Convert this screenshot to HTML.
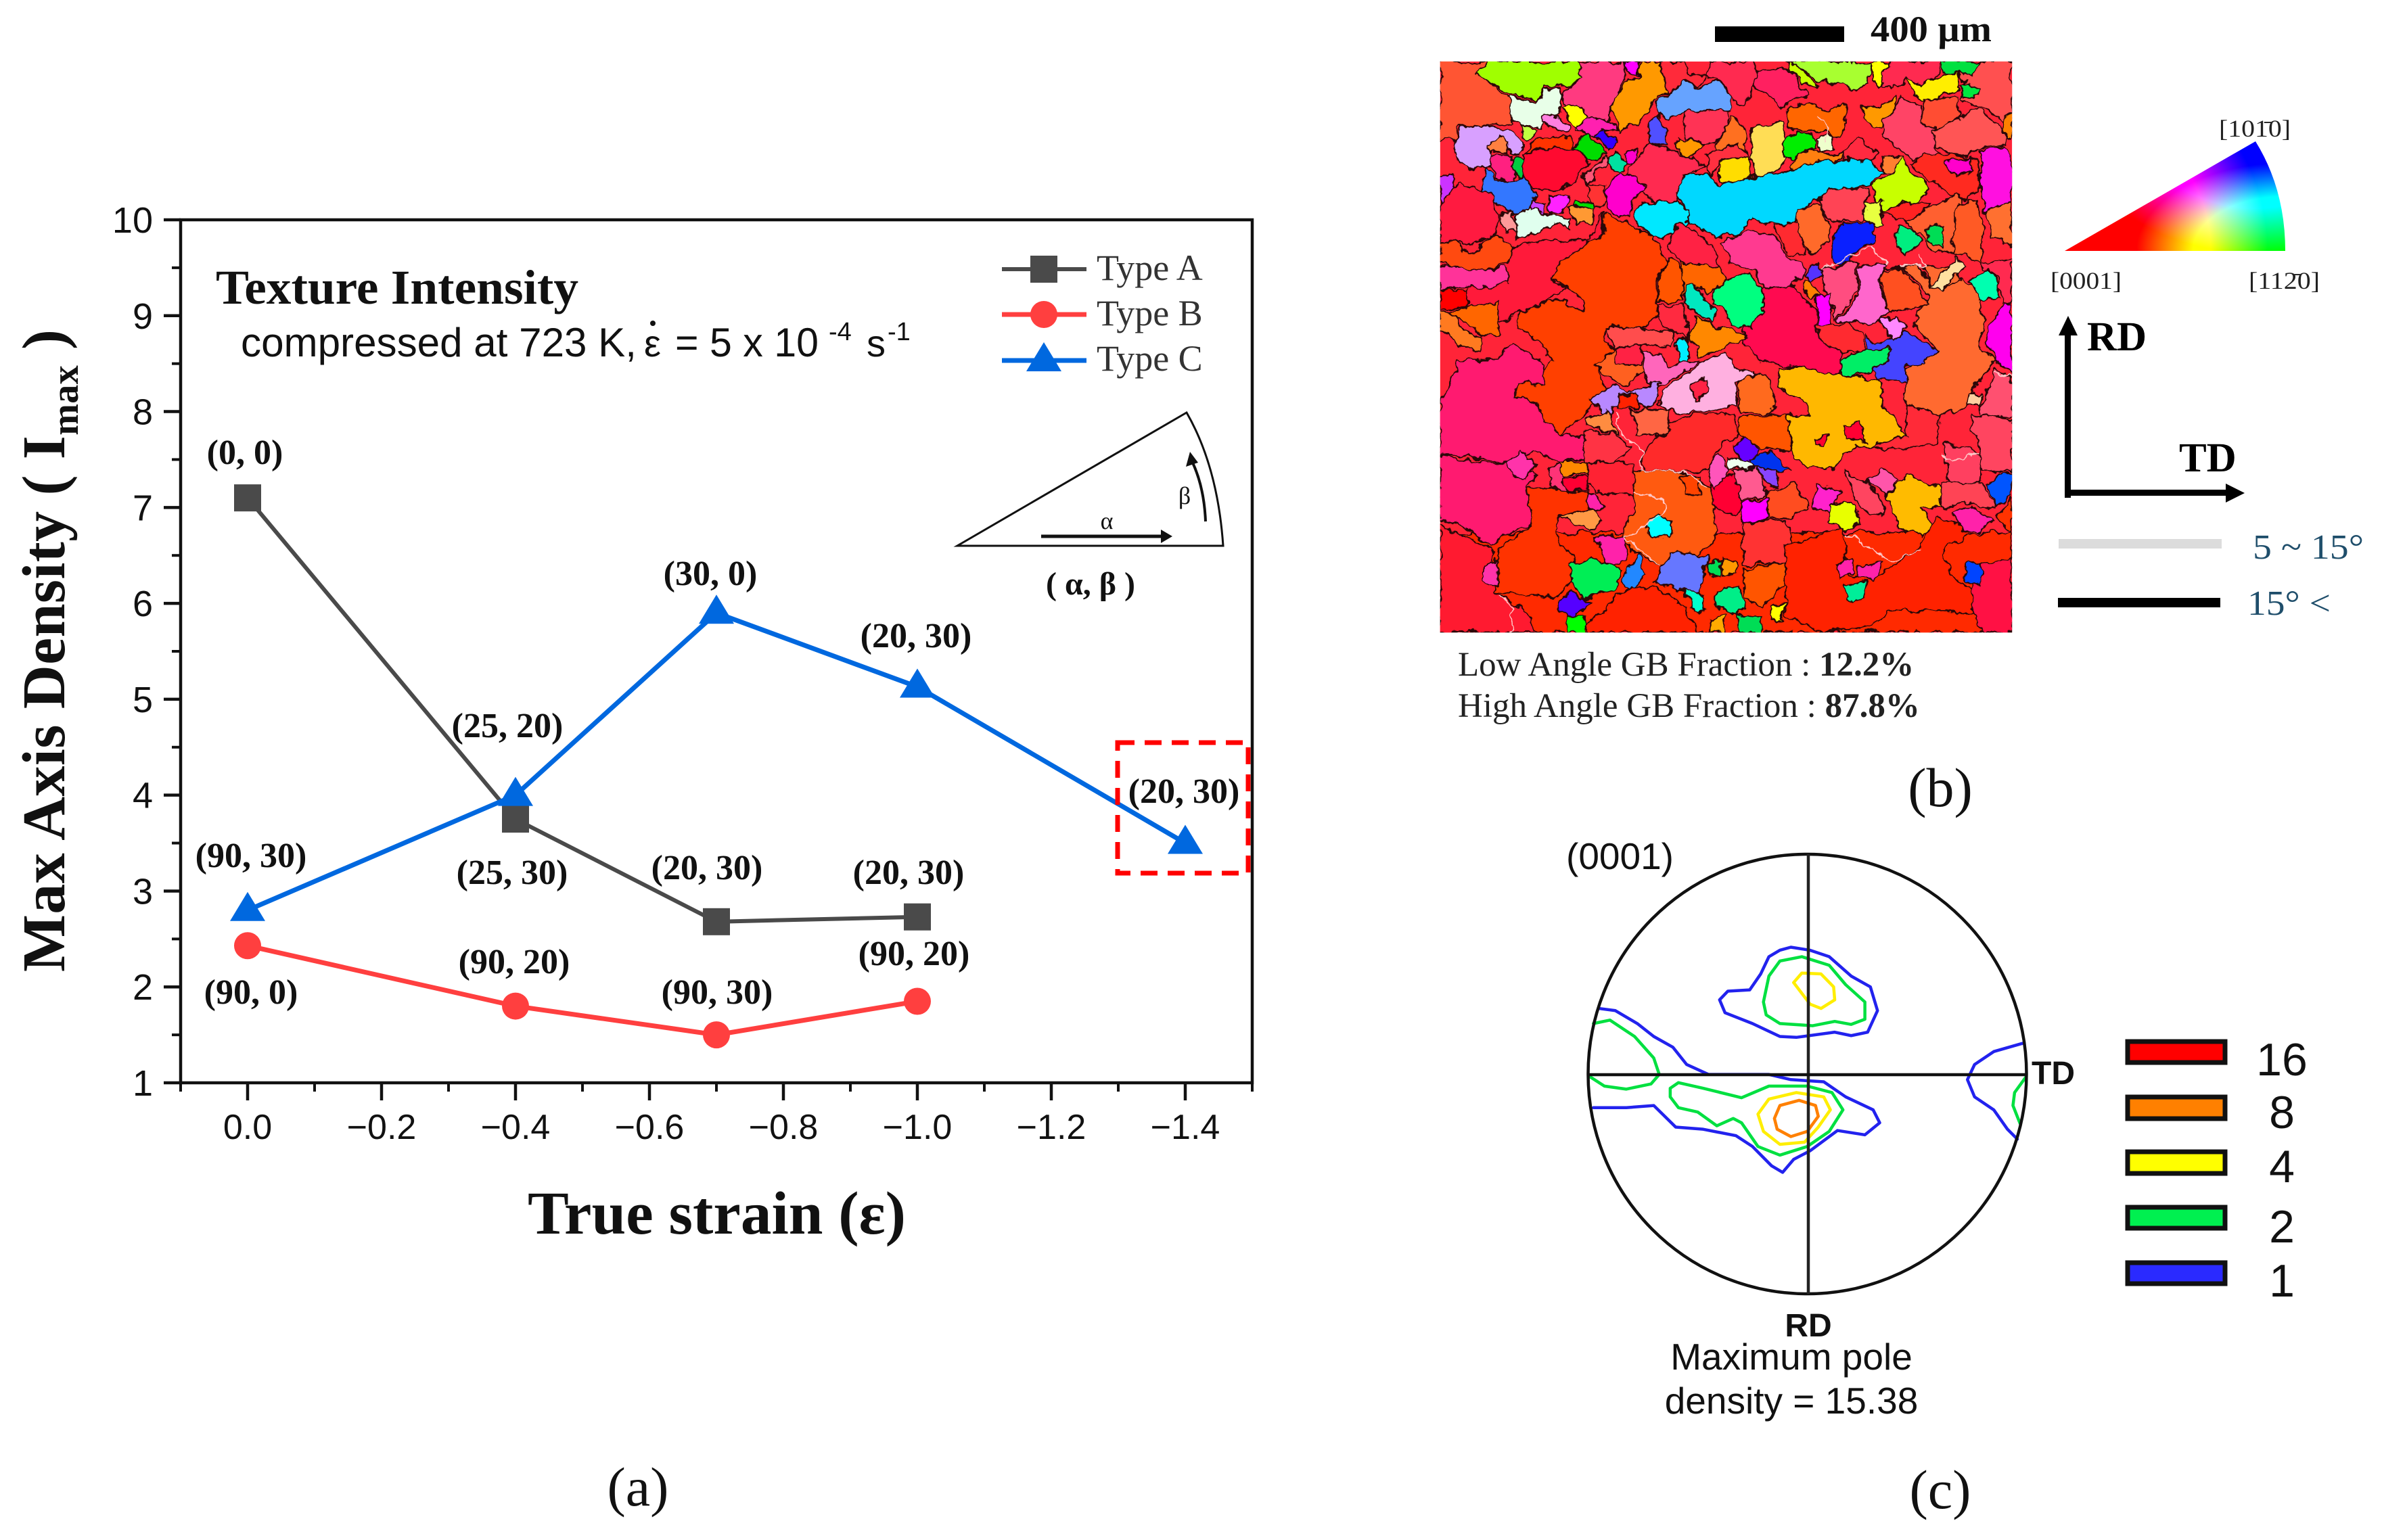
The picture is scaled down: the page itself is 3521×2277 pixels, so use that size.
<!DOCTYPE html>
<html lang="en">
<head>
<meta charset="utf-8">
<title>Texture intensity figure</title>
<style>
html,body{margin:0;padding:0;background:#fff}
svg{display:block}
.sans{font-family:"Liberation Sans",Arial,sans-serif}
.serif{font-family:"Liberation Serif","Times New Roman",serif}
.pt{font-family:"Liberation Serif",serif;font-weight:bold;font-size:52px;text-anchor:middle;fill:#111}
.leg{font-family:"Liberation Serif",serif;font-size:54px;fill:#333}
.gr path{stroke:#2a0808;stroke-width:3.6;stroke-linejoin:round}
.lagb{fill:none;stroke:#ffc8c8;stroke-width:3}
.ct{fill:none;stroke-width:4.5;stroke-linejoin:round;stroke-linecap:round;vector-effect:non-scaling-stroke}
</style>
</head>
<body>
<svg id="fig" xmlns="http://www.w3.org/2000/svg" width="3521" height="2277" viewBox="0 0 3521 2277">
<rect width="3521" height="2277" fill="#fff"/>

<g id="panel-a">
  <g id="axes"></g>
  <text class="serif" font-weight="bold" font-size="90" fill="#111" transform="translate(95,1437) rotate(-90)" textLength="950" lengthAdjust="spacing">Max Axis Density ( I<tspan font-size="56" dy="20">max</tspan><tspan dy="-20"> )</tspan></text>
  <text class="serif" font-weight="bold" font-size="90" fill="#111" x="780" y="1824" textLength="559" lengthAdjust="spacingAndGlyphs">True strain (ε)</text>
  <text class="serif" font-weight="bold" font-size="72" fill="#111" x="319" y="449" textLength="536" lengthAdjust="spacingAndGlyphs">Texture Intensity</text>
  <g class="sans" font-size="60" fill="#111">
    <text x="356" y="527" textLength="585" lengthAdjust="spacingAndGlyphs">compressed at 723 K,</text>
    <text x="952" y="527" font-size="56">ε</text>
    <circle cx="965" cy="478" r="4" fill="#111"/>
    <text x="998" y="527" textLength="212" lengthAdjust="spacingAndGlyphs">= 5 x 10</text>
    <text x="1225" y="503" font-size="38">-4</text>
    <text x="1281" y="527" font-size="56">s</text>
    <text x="1312" y="503" font-size="38">-1</text>
  </g>
  <g id="series"></g>
  <rect x="1652" y="1098" width="193" height="193" fill="none" stroke="#f00" stroke-width="7" stroke-dasharray="25 15"/>

  <g>
    <text class="pt" x="362" y="686">(0, 0)</text>
    <text class="pt" x="757" y="1307">(25, 30)</text>
    <text class="pt" x="1045" y="1300">(20, 30)</text>
    <text class="pt" x="1343" y="1307">(20, 30)</text>
    <text class="pt" x="371" y="1484">(90, 0)</text>
    <text class="pt" x="760" y="1439">(90, 20)</text>
    <text class="pt" x="1060" y="1484">(90, 30)</text>
    <text class="pt" x="1351" y="1427">(90, 20)</text>
    <text class="pt" x="371" y="1282">(90, 30)</text>
    <text class="pt" x="750" y="1090">(25, 20)</text>
    <text class="pt" x="1050" y="865">(30, 0)</text>
    <text class="pt" x="1354" y="957">(20, 30)</text>
    <text class="pt" x="1750" y="1187">(20, 30)</text>
  </g>

  <g id="legend">
    <text class="leg" x="1621" y="414">Type A</text>
    <text class="leg" x="1621" y="481">Type B</text>
    <text class="leg" x="1621" y="548">Type C</text>
  </g>

  <g fill="none" stroke="#111" stroke-width="3">
    <path d="M1415 807 L1754 610 Q1800 690 1808 807 Z"/>
    <path d="M1539 793 H1722" stroke-width="5"/>
    <path d="M1733 793 L1716 783 V803 Z" fill="#111" stroke="none"/>
    <path d="M1782 771 Q1780 720 1762 682" stroke-width="4"/>
    <path d="M1759 668 L1753 690 L1771 684 Z" fill="#111" stroke="none"/>
    <text class="serif" font-size="36" fill="#111" stroke="none" x="1636" y="782" text-anchor="middle">α</text>
    <text class="serif" font-size="36" fill="#111" stroke="none" x="1751" y="745" text-anchor="middle">β</text>
    <text class="serif" font-weight="bold" font-size="48" fill="#111" stroke="none" x="1612" y="879" text-anchor="middle">( α, β )</text>
  </g>
  <text class="serif" font-size="82" fill="#111" x="943" y="2226" text-anchor="middle">(a)</text>
</g>

<g id="panel-b">
  <rect x="2535" y="39" width="191" height="23" fill="#000"/>
  <text class="serif" font-weight="bold" font-size="54" fill="#111" x="2765" y="61" textLength="179" lengthAdjust="spacingAndGlyphs">400 µm</text>
  <defs>
    <clipPath id="mapclip"><rect x="50" y="150" width="1473" height="1393"/></clipPath>
    <clipPath id="ipfclip"><path d="M3052 371 L3334 209 Q3378 280 3378 371 Z"/></clipPath>
    <radialGradient id="gR" gradientUnits="userSpaceOnUse" cx="3052" cy="371" r="300"><stop offset="0" stop-color="#f00"/><stop offset=".72" stop-color="#f00"/><stop offset="1" stop-color="#000"/></radialGradient>
    <radialGradient id="gG" gradientUnits="userSpaceOnUse" cx="0" cy="0" r="1" gradientTransform="translate(3378 371) scale(220 130)"><stop offset="0" stop-color="#0f0"/><stop offset=".62" stop-color="#0f0"/><stop offset="1" stop-color="#000"/></radialGradient>
    <radialGradient id="gB" gradientUnits="userSpaceOnUse" cx="0" cy="0" r="1" gradientTransform="translate(3334 209) scale(250 165)"><stop offset="0" stop-color="#00f"/><stop offset=".6" stop-color="#00f"/><stop offset="1" stop-color="#000"/></radialGradient>
    <filter id="rough" filterUnits="userSpaceOnUse" x="0" y="100" width="1600" height="1500" color-interpolation-filters="sRGB">
      <feTurbulence type="fractalNoise" baseFrequency=".035" numOctaves="3" seed="4" result="n"/>
      <feDisplacementMap in="SourceGraphic" in2="n" scale="26" xChannelSelector="R" yChannelSelector="G"/>
    </filter>
  </defs>
  <g transform="translate(2100,0) scale(.574,.6061)">
    <g clip-path="url(#mapclip)">
      <rect x="50" y="150" width="1473" height="1393" fill="#ff2438"/>
      <g class="gr" filter="url(#rough)">
<path fill="#ff2a00" d="M50 1300H1523V1543H50Z"/>
<path fill="#ff1a30" d="M50 1280L190 1340L190 1440L270 1490L300 1543H50Z"/>
<path fill="#ff5533" d="M50 150H170L150 180L230 240L240 300L100 310L85 340H50Z"/>
<path fill="#a0ff00" d="M170 150H400L415 190L380 210H320L300 245L230 230L145 180Z"/>
<path fill="#ff3a80" d="M400 150H530L520 200L480 300L400 320L360 230L415 190Z"/>
<path fill="#ff9900" d="M490 260L530 195L560 190L570 150H610L640 220L600 250L560 300L510 325Z"/>
<path fill="#f0f" d="M525 150H565L560 180H530Z"/>
<path fill="#ff2a3a" d="M610 150H680L690 180L740 185L720 210L680 195L640 225Z"/>
<path fill="#ff2a50" d="M740 150H860L860 210L830 260L800 240L770 190L740 185Z"/>
<path fill="#66a3ff" d="M610 250L680 195L720 215L770 195L800 240V270H680L640 290L610 280Z"/>
<path fill="#ff2060" d="M860 170H945L1000 230L930 260L880 220L860 210Z"/>
<path fill="#a8ff30" d="M945 150H1160L1150 205L1120 225L1090 205L1020 200L975 160Z"/>
<path fill="#c8ff00" d="M945 150L975 160L1025 215L985 200L950 175Z"/>
<path fill="#ff0" d="M1160 150H1200V195L1180 212L1160 185Z"/>
<path fill="#ff2a50" d="M1200 150H1340L1330 190L1290 205L1250 190L1215 220L1190 210Z"/>
<path fill="#00e040" d="M1340 150H1445L1420 185L1345 180Z"/>
<path fill="#ff5050" d="M1445 150H1523V300L1430 260L1390 240L1400 200L1380 175L1420 185Z"/>
<path fill="#ffee00" d="M1250 190L1290 205L1330 190L1385 175V225L1340 230L1305 255L1270 225Z"/>
<path fill="#00e840" d="M1390 205L1440 215L1430 235L1395 235Z"/>
<path fill="#ff6600" d="M945 265L1000 250L1040 275L1090 250L1095 300L1080 340L1040 320H1000L945 310Z"/>
<path fill="#ff9900" d="M1140 260H1180L1225 235V285L1180 315L1140 285Z"/>
<path fill="#ff4466" d="M1190 300L1240 235L1290 260V300L1340 320L1320 350L1340 380L1270 390L1240 370L1190 330Z"/>
<path fill="#ff4d33" d="M1300 240H1380L1390 285L1340 320L1290 300Z"/>
<path fill="#ff5555" d="M1320 320L1390 290L1430 265L1500 310L1505 350L1440 360L1410 380L1360 375L1320 350Z"/>
<path fill="#ff8000" d="M1505 280H1523V340H1505Z"/>
<path fill="#e8ffe8" d="M228 235L300 250L320 215H360V280L320 290L310 315L260 300L235 285Z"/>
<path fill="#ff80e0" d="M310 280L360 285L380 310V325L340 310L310 300Z"/>
<path fill="#c0ff40" d="M260 300L300 320L280 340L265 330Z"/>
<path fill="#ff0" d="M365 265L395 255L430 285L420 315L390 310Z"/>
<path fill="#d8a0ff" d="M85 340L110 310L160 305L230 320L270 350L250 380L190 345L180 380L190 410H120L90 380Z"/>
<path fill="#ff8040" d="M170 355L205 330L225 345V372L180 370Z"/>
<path fill="#ff2080" d="M180 380L230 375L240 400L245 440L190 435Z"/>
<path fill="#00cc40" d="M240 380L275 400L285 425L260 435L235 410Z"/>
<path fill="#ff0a30" d="M265 380L320 360H420L430 400L400 440L340 470L290 460L265 430Z"/>
<path fill="#f30" d="M290 345L340 330L390 340L395 360H320L270 375Z"/>
<path fill="#00dd00" d="M395 355L430 325L480 375L440 395L420 380Z"/>
<path fill="#ff20b0" d="M400 310L440 285L490 300L510 320L470 318L450 330L430 325Z"/>
<path fill="#30f" d="M450 330L470 318L510 350L480 365Z"/>
<path fill="#00e0a0" d="M485 390L505 370L530 400L505 420L485 410Z"/>
<path fill="#5050ff" d="M585 300L610 280L635 320L630 355L590 350Z"/>
<path fill="#f0c" d="M525 370L560 365L550 400L530 400Z"/>
<path fill="#3377ff" d="M170 410L190 440H240L270 435L295 475L270 520H240L190 495L160 465Z"/>
<path fill="#ff1a40" d="M50 480L100 450L180 470L200 540L190 570L130 600L90 590H50Z"/>
<path fill="#c3f" d="M50 430L85 425V460L50 500Z"/>
<path fill="#f0c" d="M495 440L510 420L560 430L580 460L545 490L540 530L495 520L475 490L480 460Z"/>
<path fill="#ff5577" d="M420 430L480 380L490 390L450 420L430 450Z"/>
<path fill="#f33" d="M430 450H475V505L440 500Z"/>
<path fill="#e0ffee" d="M250 525L280 505L330 520L385 530V560L345 545L300 565L245 585Z"/>
<path fill="#f99" d="M200 525L240 515L250 570L220 565Z"/>
<path fill="#c4f" d="M285 490L325 500L320 520L285 510Z"/>
<path fill="#f2f" d="M330 480H385L375 510L335 520Z"/>
<path fill="#00dd00" d="M400 490H440V505H400Z"/>
<path fill="#f93" d="M380 510L440 505V545H405L390 530Z"/>
<path fill="#ff2a50" d="M530 420L590 350L660 370L690 385L740 410L680 425L660 490L610 495L570 470L580 450Z"/>
<path fill="#f35" d="M680 320V270H790V305L760 350L680 340Z"/>
<path fill="#f90" d="M660 340L680 345H720L730 350L690 385L660 360Z"/>
<path fill="#ff7020" d="M800 280L840 320V380H770L760 360Z"/>
<path fill="#ff3040" d="M740 375L820 350L850 390L770 395L745 430Z"/>
<path fill="#ffdd55" d="M855 310L930 295L940 390L905 420L870 435L850 380Z"/>
<path fill="#ffdd00" d="M770 395L845 385L850 430L800 450L770 445Z"/>
<path fill="#00ee00" d="M930 340L970 320L1015 330L1020 360L985 370L960 390L935 385Z"/>
<path fill="#efc" d="M1020 335L1060 330V365L1030 370Z"/>
<path fill="#ff7f10" d="M955 410L975 375L1010 365L1060 380L1090 370L1085 385L1050 395L1020 425L1010 450L965 430Z"/>
<path fill="#ff2a40" d="M1090 370L1130 335L1180 375L1140 410L1090 395Z"/>
<path fill="#ff8030" d="M1190 385L1240 380L1255 420L1215 425L1195 420Z"/>
<path fill="#00d8ff" d="M660 480L680 425H740L770 455L850 430L950 420L1020 395L1100 390L1150 395L1200 420L1160 450L1060 470L1020 490L980 510L960 545H880L850 530L820 570L760 575L690 540V515Z"/>
<path fill="#00e8ff" d="M555 510L570 490L610 495L660 490L690 515V540L650 575L600 580L565 555Z"/>
<path fill="#ff2a20" d="M1260 400L1300 380L1360 375L1430 390L1440 450L1410 490L1360 470L1310 440Z"/>
<path fill="#f0c" d="M1350 395L1420 385V415L1380 430Z"/>
<path fill="#c8ff00" d="M1165 450L1215 425L1240 380L1260 420L1305 445V470L1270 505L1240 490L1200 520L1165 480Z"/>
<path fill="#e8ff40" d="M1140 500L1190 490L1195 545L1160 550L1140 530Z"/>
<path fill="#ff10e0" d="M1440 365L1500 355L1523 380V490L1450 520L1440 450Z"/>
<path fill="#f45" d="M1025 490L1050 460H1150L1145 500L1135 540H1060L1030 510Z"/>
<path fill="#ff6a2a" d="M970 510L1025 500L1050 540V590L1000 620L970 560Z"/>
<path fill="#f22" d="M1190 520L1240 495L1310 500L1300 520L1250 540Z"/>
<path fill="#ff6030" d="M1245 540L1310 510L1380 470L1400 500L1380 620L1310 610L1290 570Z"/>
<path fill="#ff5a25" d="M1380 500L1430 490L1450 560L1440 640L1400 620L1370 620Z"/>
<path fill="#ff7030" d="M1460 510L1523 490V600L1470 580Z"/>
<path fill="#00ee80" d="M1225 555L1275 560L1290 590L1250 620L1225 600Z"/>
<path fill="#00dd55" d="M1310 550H1345V605L1305 590Z"/>
<path fill="#0a20ff" d="M1080 545H1170L1165 590L1120 610L1100 650L1060 630V590Z"/>
<path fill="#ff1a3a" d="M120 690L200 650L240 600L310 590H430L470 520V570L360 640L340 690L380 700L310 740L250 760L200 790L120 780V710Z"/>
<path fill="#ff4a10" d="M50 590H90L125 620L190 570L240 600L230 640L160 660H90L50 640Z"/>
<path fill="#f39" d="M50 650L160 660L220 650L225 690L160 700H120L50 710Z"/>
<path fill="#f00" d="M50 710H120V750L50 755Z"/>
<path fill="#f60" d="M80 760L200 735V815L160 820L130 790L90 780Z"/>
<path fill="#ff7a20" d="M50 760H80L100 800L160 825V865L100 840L50 800Z"/>
<path fill="#ff4000" d="M475 520L600 580L635 640L605 690L610 770L570 800H475V830L510 860L460 900L475 950L420 1010L360 1060L310 1020L305 990L245 965V935L310 910L340 880L320 850L250 800V760L310 740L350 730L420 760V735L380 700L340 680L360 640L420 600L470 570Z"/>
<path fill="#ff1a70" d="M50 980L100 880H180L240 840L310 880L320 940L245 935V965L305 990L310 1020L360 1060H430V1120L360 1130L290 1100L240 1130L100 1110H50Z"/>
<path fill="#ff1a70" d="M50 1110L100 1120L230 1130L300 1160L270 1190L290 1280L220 1300L180 1330L100 1280L50 1270Z"/>
<path fill="#ff0a50" d="M830 800L880 700H960L1020 760V810L1085 860L1080 915L930 890L880 880L830 840Z"/>
<path fill="#ff3a90" d="M775 590L850 560L910 575L945 630L990 650L960 700H880L860 660L800 640Z"/>
<path fill="#f24" d="M660 545L700 560L750 600L770 650L670 640L640 600Z"/>
<path fill="#ff2a30" d="M910 550L970 540L990 620L945 620Z"/>
<path fill="#f60" d="M670 640L770 650L790 680L740 720L700 690L670 720Z"/>
<path fill="#f50" d="M610 690L640 630L670 650L675 735H610Z"/>
<path fill="#00e8c0" d="M680 700L700 690L760 760L750 790L680 740Z"/>
<path fill="#00ff80" d="M755 710L790 680L850 670L885 720V760L850 800L800 790L780 750L750 740Z"/>
<path fill="#f80" d="M690 820L710 770L760 800H800L840 825L780 850L720 870Z"/>
<path fill="#ff2a40" d="M610 745H680L690 830L650 810L615 790Z"/>
<path fill="#ff4d4d" d="M475 800H570L650 810V850L580 840L500 850Z"/>
<path fill="#ff6020" d="M450 890L505 850L580 870V900L530 940L490 930Z"/>
<path fill="#f24" d="M505 850L570 840V890H505Z"/>
<path fill="#0ef" d="M660 830H690L690 885H665Z"/>
<path fill="#f6b" d="M570 860H620L640 900L680 880H720L640 930L600 950L580 920Z"/>
<path fill="#ffb0e0" d="M720 885L790 860L820 905H860V935H815V990L760 1000L680 1010L640 1000L610 985L640 940Z"/>
<path fill="#f24" d="M695 935L735 920L740 960L710 975Z"/>
<path fill="#b888ff" d="M435 970L500 940L540 960L615 930L610 975L580 1000L540 975L500 990L480 1020Z"/>
<path fill="#f20" d="M510 965H555V995H510Z"/>
<path fill="#ff6a1e" d="M820 935L880 905L920 990L900 1010H820Z"/>
<path fill="#ffb800" d="M925 900L960 895L1080 915L1180 925L1190 990L1250 1060L1160 1090H1110L1060 1140H1000L960 1120L945 1050V1010H1000L990 975L920 945Z"/>
<path fill="#f03" d="M1015 1070L1050 1060L1040 1085H1020Z"/>
<path fill="#f03" d="M1090 1040L1130 1030L1145 1080L1100 1075Z"/>
<path fill="#ff2a30" d="M1020 790H1100L1140 820L1145 855L1085 860L1030 830Z"/>
<path fill="#ff6a30" d="M1180 660L1240 650L1310 720L1270 790L1330 855L1250 900V990L1340 1010L1420 990V950L1480 880L1440 850L1450 770L1440 700L1380 680L1320 700L1280 650Z"/>
<path fill="#ff6a30" d="M1245 650H1380L1390 690L1320 700L1290 650Z"/>
<path fill="#ff5020" d="M1180 670L1240 655L1280 700L1305 740L1270 755L1205 760Z"/>
<path fill="#44f" d="M1145 815L1170 840L1210 825L1250 810L1330 855L1290 890H1250V930L1180 925L1160 900Z"/>
<path fill="#00ee66" d="M1080 885L1130 855L1215 850L1195 890L1130 915L1085 915Z"/>
<path fill="#f0e" d="M1455 820L1500 740L1523 745V910L1480 880Z"/>
<path fill="#f6c" d="M1075 780L1130 720L1125 650L1200 640L1180 690L1205 760L1170 790H1100Z"/>
<path fill="#ff4d80" d="M1030 660L1120 640L1125 710L1070 780L1040 710Z"/>
<path fill="#f0f" d="M1020 720L1055 715V790L1025 790Z"/>
<path fill="#f8f" d="M1180 780L1220 770L1250 800L1220 830Z"/>
<path fill="#ff8000" d="M985 680L1005 690L1030 720L1010 730L985 705Z"/>
<path fill="#53f" d="M985 665L1020 645L1035 670L1005 690Z"/>
<path fill="#ffe0a0" d="M1315 700L1380 625L1405 650L1365 680L1345 708Z"/>
<path fill="#ff2a50" d="M1440 640H1523V740H1495L1490 680L1450 655Z"/>
<path fill="#00ffb0" d="M1415 680L1460 660L1490 690L1485 730L1440 730Z"/>
<path fill="#ff4560" d="M1420 1010H1480L1523 1030V1150H1450L1440 1090L1420 1050Z"/>
<path fill="#ff2a38" d="M1250 990L1340 1010L1330 1080L1240 1100L1160 1090L1250 1060Z"/>
<path fill="#ff5070" d="M1480 900L1523 920V1020L1440 1010Z"/>
<path fill="#ffd0a0" d="M1410 960H1445V990H1410Z"/>
<path fill="#ff4060" d="M1345 1080L1410 1095L1450 1110L1440 1190L1360 1180Z"/>
<path fill="#ff2a2a" d="M570 1110L620 1040L710 1010H800L820 1060L760 1100L740 1150H580Z"/>
<path fill="#f64" d="M540 1000H645L640 1060H560Z"/>
<path fill="#f34" d="M420 1050L500 1060L540 1090L500 1130H420Z"/>
<path fill="#ff8c40" d="M420 1020L480 1000L510 1060L430 1040Z"/>
<path fill="#f23" d="M430 1130H550V1210L450 1200L430 1170Z"/>
<path fill="#f50" d="M820 1020L945 1010L950 1095H880L820 1060Z"/>
<path fill="#60f" d="M805 1085L835 1065L870 1095L860 1130L820 1120Z"/>
<path fill="#03e" d="M850 1120L905 1100L950 1145L920 1150H850Z"/>
<path fill="#efe" d="M790 1120H840L860 1140L790 1145Z"/>
<path fill="#f03" d="M750 1170L820 1160L830 1220L810 1260L750 1230Z"/>
<path fill="#ff5a90" d="M800 1150L870 1140L890 1210L830 1220Z"/>
<path fill="#84f" d="M870 1140L915 1150L925 1185L895 1190Z"/>
<path fill="#f5b" d="M745 1130L770 1100L790 1150L760 1190L745 1170Z"/>
<path fill="#ff5a10" d="M550 1150H670L750 1190L760 1310L690 1370L620 1380L540 1340L520 1310L550 1240Z"/>
<path fill="#f40" d="M670 1160L720 1165V1205L680 1210Z"/>
<path fill="#0ff" d="M580 1280L610 1258L645 1270L640 1310H590Z"/>
<path fill="#ff4d20" d="M890 1200L960 1180L1000 1230L960 1260L900 1270Z"/>
<path fill="#f0f" d="M825 1225L895 1215V1270L825 1280Z"/>
<path fill="#f33" d="M830 1280L940 1270L960 1330L940 1370L830 1380Z"/>
<path fill="#f2c" d="M1020 1180L1085 1200L1055 1250L1010 1240Z"/>
<path fill="#e8ff00" d="M1050 1230L1110 1225L1130 1280L1090 1295L1050 1270Z"/>
<path fill="#ff4560" d="M1090 1150L1150 1180L1190 1220V1260L1130 1240Z"/>
<path fill="#f5a" d="M1145 1175L1190 1145L1230 1170L1200 1205Z"/>
<path fill="#fb0" d="M1200 1205L1250 1160L1340 1190V1240H1285L1320 1290L1290 1310L1230 1290Z"/>
<path fill="#f45" d="M1340 1180H1450L1480 1240L1400 1225L1340 1240Z"/>
<path fill="#05f" d="M1460 1180L1490 1155H1523V1210L1480 1235Z"/>
<path fill="#f30" d="M1523 1215V1300L1480 1260Z"/>
<path fill="#f2a" d="M1370 1250L1420 1235L1470 1270L1440 1295L1380 1290Z"/>
<path fill="#f2a" d="M410 1215L450 1205L475 1240H415Z"/>
<path fill="#f30" d="M270 1190L430 1200V1245L350 1260L360 1330L400 1360L385 1420L350 1460L190 1440L200 1340L290 1280Z"/>
<path fill="#f94" d="M350 1260L410 1250L440 1240L470 1270L440 1295L400 1280Z"/>
<path fill="#f37" d="M330 1140L360 1130L380 1200L340 1190Z"/>
<path fill="#f3a" d="M220 1130L260 1100L295 1130L270 1170L235 1160Z"/>
<path fill="#f2a" d="M450 1310H530V1370L480 1380Z"/>
<path fill="#f3a" d="M160 1380L200 1370V1430L160 1420Z"/>
<path fill="#0e5" d="M385 1380L440 1360L520 1390L500 1440L420 1460L385 1420Z"/>
<path fill="#28f" d="M520 1420L560 1350L580 1400L550 1440Z"/>
<path fill="#67f" d="M650 1345L745 1360L730 1400L720 1450L600 1420Z"/>
<path fill="#50f" d="M355 1470L385 1445L440 1470L400 1500L360 1495Z"/>
<path fill="#0f0" d="M380 1500H425L420 1543H380Z"/>
<path fill="#f20" d="M420 1530L520 1440L600 1430L680 1480L710 1543H430Z"/>
<path fill="#0e8" d="M760 1440L820 1430L835 1480L810 1500L760 1480Z"/>
<path fill="#0fc" d="M680 1440L730 1450L735 1490L700 1490Z"/>
<path fill="#0d5" d="M810 1500H875V1543H820Z"/>
<path fill="#fa0" d="M750 1510L785 1500L780 1543H745Z"/>
<path fill="#f50" d="M830 1390L940 1370V1420L880 1480L835 1460Z"/>
<path fill="#f20" d="M940 1330L1090 1290L1100 1410L1190 1400L1280 1340L1330 1260L1420 1300L1350 1340L1360 1400L1420 1440V1490H1200L1160 1530L1040 1543L940 1500Z"/>
<path fill="#f14" d="M1420 1380L1523 1360V1543H1450L1420 1490Z"/>
<path fill="#04f" d="M1400 1375H1445V1425L1405 1420Z"/>
<path fill="#f2a" d="M1065 1380L1110 1360L1120 1400L1075 1410Z"/>
<path fill="#f2a" d="M1130 1380L1190 1370L1170 1420L1130 1410Z"/>
<path fill="#0e9" d="M1090 1430L1150 1420L1140 1460L1110 1475Z"/>
<path fill="#ff0" d="M905 1480L940 1470L930 1515H905Z"/>
<path fill="#f90" d="M775 1365L815 1370L810 1400H780Z"/>
<path fill="#0d5" d="M740 1375L775 1370V1405L745 1405Z"/>
<path fill="#f80" d="M355 1130H430V1160H365Z"/>
<path fill="#f03" d="M360 1165H430V1195H380Z"/>
      </g>
      <g filter="url(#rough)">
        <polyline class="lagb" points="500,1010 520,1060 570,1100 570,1150 680,1150 740,1190"/>
        <polyline class="lagb" points="550,1200 630,1220 620,1260 560,1290 525,1310 560,1340 620,1380"/>
        <polyline class="lagb" points="200,1450 240,1480 230,1543"/>
        <polyline class="lagb" points="1100,1300 1160,1340 1220,1370 1290,1340"/>
        <polyline class="lagb" points="1480,910 1523,915"/>
        <polyline class="lagb" points="1230,650 1300,650 1280,620"/>
        <polyline class="lagb" points="1030,660 1080,640 1160,600 1200,640"/>
        <polyline class="lagb" points="1020,280 1050,320 1040,350"/>
        <polyline class="lagb" points="1340,1110 1370,1130 1440,1100"/>
      </g>
    </g>
  </g>
  <text class="serif" font-size="51" fill="#222" x="2155" y="999">Low Angle GB Fraction : <tspan font-weight="bold">12.2%</tspan></text>
  <text class="serif" font-size="51" fill="#222" x="2155" y="1060">High Angle GB Fraction : <tspan font-weight="bold">87.8%</tspan></text>

  <g>
    <g clip-path="url(#ipfclip)" style="isolation:isolate">
      <rect x="3040" y="200" width="350" height="180" fill="#000"/>
      <rect x="3040" y="200" width="350" height="180" fill="url(#gR)" style="mix-blend-mode:screen"/>
      <rect x="3040" y="200" width="350" height="180" fill="url(#gG)" style="mix-blend-mode:screen"/>
      <rect x="3040" y="200" width="350" height="180" fill="url(#gB)" style="mix-blend-mode:screen"/>
    </g>
    <text class="serif" font-size="36" fill="#222" x="3280" y="202" textLength="106" lengthAdjust="spacingAndGlyphs">[101̄0]</text>
    <text class="serif" font-size="36" fill="#222" x="3031" y="427" textLength="105" lengthAdjust="spacingAndGlyphs">[0001]</text>
    <text class="serif" font-size="36" fill="#222" x="3324" y="427" textLength="105" lengthAdjust="spacingAndGlyphs">[112̄0]</text>
  </g>
  <g>
    <rect x="3052" y="490" width="9" height="246" fill="#000"/>
    <path d="M3057 467 L3071 496 H3043 Z" fill="#000"/>
    <rect x="3052" y="724" width="240" height="9" fill="#000"/>
    <path d="M3318 729 L3290 715 V743 Z" fill="#000"/>
    <text class="serif" font-weight="bold" font-size="61" fill="#000" x="3085" y="518">RD</text>
    <text class="serif" font-weight="bold" font-size="61" fill="#000" x="3221" y="697">TD</text>
  </g>
  <g>
    <rect x="3043" y="797" width="241" height="14" fill="#dcdcdc"/>
    <text class="serif" font-size="52" fill="#1f4e6b" x="3330" y="826" textLength="164" lengthAdjust="spacingAndGlyphs">5 ~ 15°</text>
    <rect x="3042" y="884" width="240" height="14" fill="#000"/>
    <text class="serif" font-size="52" fill="#1f4e6b" x="3322" y="909" textLength="123" lengthAdjust="spacingAndGlyphs">15° &lt;</text>
  </g>
  <text class="serif" font-size="82" fill="#111" x="2868" y="1192" text-anchor="middle">(b)</text>
</g>

<g id="panel-c">
  <text class="sans" font-size="55" fill="#111" x="2315" y="1285">(0001)</text>
  <g transform="translate(2250,1220) scale(.8106,.6378)">
    <polygon class="ct" stroke="#2222ee" points="360,405 375,385 415,382 435,345 450,305 470,290 490,283 525,290 560,305 600,350 635,375 648,430 630,480 600,488 570,480 500,492 470,490 420,460 370,435"/>
    <polygon class="ct" stroke="#00e040" points="440,410 450,350 470,315 510,305 560,325 590,370 625,410 625,450 600,462 570,455 530,465 470,460 445,440"/>
    <polygon class="ct" stroke="#ffee00" points="495,365 510,343 545,345 568,375 570,405 545,425 525,415"/>
    <polyline class="ct" fill="none" stroke="#2222ee" points="140,425 170,430 210,460 240,490 275,515 300,555 340,578 450,578 490,590 550,595 590,630 640,660 652,690 625,718 575,708 525,755 495,775 475,805 455,790 420,745 390,720 330,705 280,700 240,650 190,655 130,655"/>
    <polyline class="ct" fill="none" stroke="#00e040" points="130,460 160,452 205,490 240,540 250,578 235,600 190,612 150,605 122,582"/>
    <polygon class="ct" stroke="#00e040" points="270,610 285,597 330,610 400,632 450,605 520,605 565,620 585,660 560,710 520,745 470,765 430,745 400,690 385,680 355,697 320,665 285,655 270,630"/>
    <polygon class="ct" stroke="#ffee00" points="430,670 450,635 500,620 550,630 562,660 540,700 515,735 470,740 440,710"/>
    <polygon class="ct" stroke="#ff8000" points="460,680 470,650 505,638 535,650 540,675 520,710 490,722 465,705"/>
    <polyline class="ct" fill="none" stroke="#2222ee" points="915,505 860,525 825,555 812,590 825,630 860,660 885,705 903,728"/>
    <polyline class="ct" fill="none" stroke="#00e040" points="918,585 898,620 895,650 908,692"/>
  </g>
  <ellipse cx="2671.5" cy="1588" rx="324" ry="325" fill="none" stroke="#111" stroke-width="4.5"/>
  <line x1="2673" y1="1263" x2="2673" y2="1913" stroke="#222" stroke-width="4.5"/>
  <line x1="2347" y1="1589" x2="2996" y2="1589" stroke="#111" stroke-width="4.5"/>
  <text class="sans" font-weight="bold" font-size="48" fill="#111" x="3003" y="1603">TD</text>
  <text class="sans" font-weight="bold" font-size="48" fill="#111" x="2673" y="1976" text-anchor="middle">RD</text>
  <text class="sans" font-size="55" fill="#111" x="2648" y="2025" text-anchor="middle">Maximum pole</text>
  <text class="sans" font-size="55" fill="#111" x="2648" y="2090" text-anchor="middle">density = 15.38</text>
  <g stroke="#111" stroke-width="7">
    <rect x="3145" y="1540" width="144" height="31" fill="#f00"/>
    <rect x="3145" y="1622" width="144" height="32" fill="#ff8000"/>
    <rect x="3145" y="1703" width="144" height="32" fill="#ff0"/>
    <rect x="3145" y="1785" width="144" height="31" fill="#00f050"/>
    <rect x="3145" y="1867" width="144" height="31" fill="#2a2aff"/>
  </g>
  <g class="sans" font-size="68" fill="#111" text-anchor="middle">
    <text x="3373" y="1590">16</text>
    <text x="3373" y="1668">8</text>
    <text x="3373" y="1748">4</text>
    <text x="3373" y="1837">2</text>
    <text x="3373" y="1917">1</text>
  </g>
  <text class="serif" font-size="82" fill="#111" x="2868" y="2230" text-anchor="middle">(c)</text>
</g>
</svg>

<script>
const strainA = [0, -0.4, -0.7, -1.0];
const densityA = [7.1, 3.75, 2.68, 2.73];
const strainB = [0, -0.4, -0.7, -1.0];
const densityB = [2.43, 1.8, 1.5, 1.85];
const strainC = [0, -0.4, -0.7, -1.0, -1.4];
const densityC = [2.8, 4.0, 5.9, 5.13, 3.5];
const xTickValues = [0, -0.2, -0.4, -0.6, -0.8, -1.0, -1.2, -1.4];
const xTickLabels = ['0.0', '−0.2', '−0.4', '−0.6', '−0.8', '−1.0', '−1.2', '−1.4'];
const xMinorValues = [0.1, -0.1, -0.3, -0.5, -0.7, -0.9, -1.1, -1.3, -1.5];
const yTickValues = [1, 2, 3, 4, 5, 6, 7, 8, 9, 10];
const yTickLabels = ['1', '2', '3', '4', '5', '6', '7', '8', '9', '10'];
const yMinorValues = [1.5, 2.5, 3.5, 4.5, 5.5, 6.5, 7.5, 8.5, 9.5];

const NS = 'http://www.w3.org/2000/svg';
const plot = { left: 267, right: 1851, top: 325, bottom: 1601 };
const xDomain = [0.1, -1.5];
const yDomain = [1, 10];
function xScale(v) { return plot.left + (v - xDomain[0]) / (xDomain[1] - xDomain[0]) * (plot.right - plot.left); }
function yScale(v) { return plot.bottom - (v - yDomain[0]) / (yDomain[1] - yDomain[0]) * (plot.bottom - plot.top); }
function make(tag, props, parent) {
  const el = document.createElementNS(NS, tag);
  for (const k in props) el.setAttribute(k, props[k]);
  parent.appendChild(el);
  return el;
}
const axes = document.getElementById('axes');
const seriesLayer = document.getElementById('series');
const legendLayer = document.getElementById('legend');

const frame = make('rect', { x: plot.left, y: plot.top, width: plot.right - plot.left, height: plot.bottom - plot.top, fill: 'none', stroke: '#111', 'stroke-width': 4.5 }, axes);



xTickValues.forEach(function (v, i) {
  const t = make('line', { x1: xScale(v), x2: xScale(v), y1: plot.bottom, y2: plot.bottom + 26, stroke: '#111', 'stroke-width': 4.5 }, axes);
  
  
  const l = make('text', { x: xScale(v), y: 1684, 'text-anchor': 'middle', 'font-size': 52, fill: '#111', 'font-family': '"Liberation Sans",sans-serif' }, axes);
  l.textContent = xTickLabels[i];
  
  
});
xMinorValues.forEach(function (v) {
  const t = make('line', { x1: xScale(v), x2: xScale(v), y1: plot.bottom, y2: plot.bottom + 13, stroke: '#111', 'stroke-width': 4 }, axes);
  
  
});
yTickValues.forEach(function (v, i) {
  const t = make('line', { x1: plot.left - 25, x2: plot.left, y1: yScale(v), y2: yScale(v), stroke: '#111', 'stroke-width': 4.5 }, axes);
  
  
  const l = make('text', { x: 226, y: yScale(v) + 19, 'text-anchor': 'end', 'font-size': 54, fill: '#111', 'font-family': '"Liberation Sans",sans-serif' }, axes);
  l.textContent = yTickLabels[i];
  
  
});
yMinorValues.forEach(function (v) {
  const t = make('line', { x1: plot.left - 13, x2: plot.left, y1: yScale(v), y2: yScale(v), stroke: '#111', 'stroke-width': 4 }, axes);
  
  
});

function drawMarker(kind, cx, cy, color, parent) {
  if (kind === 'square') return make('rect', { x: cx - 20, y: cy - 20, width: 40, height: 40, fill: color }, parent);
  if (kind === 'circle') return make('circle', { cx: cx, cy: cy, r: 20, fill: color }, parent);
  return make('path', { d: 'M' + cx + ' ' + (cy - 27) + 'L' + (cx + 26) + ' ' + (cy + 16) + 'H' + (cx - 26) + 'Z', fill: color }, parent);
}
function drawSeries(name, xs, ys, color, width, kind) {
  const g = make('g', {}, seriesLayer);
  
  
  const pts = xs.map(function (x, i) { return xScale(x) + ',' + yScale(ys[i]); }).join(' ');
  const line = make('polyline', { points: pts, fill: 'none', stroke: color, 'stroke-width': width, 'stroke-linejoin': 'round' }, g);
  
  
  xs.forEach(function (x, i) {
    const m = drawMarker(kind, xScale(x), yScale(ys[i]), color, g);
    
    
  });
}
drawSeries('series-type-a', strainA, densityA, '#4a4a4a', 6, 'square');
drawSeries('series-type-b', strainB, densityB, '#ff3f3f', 7, 'circle');
drawSeries('series-type-c', strainC, densityC, '#0068df', 7, 'triangle');

function drawLegendKey(y, color, width, kind) {
  const line = make('line', { x1: 1481, x2: 1606, y1: y, y2: y, stroke: color, 'stroke-width': width }, legendLayer);
  
  
  const m = drawMarker(kind, 1543, y, color, legendLayer);
  
  
}
drawLegendKey(398, '#4a4a4a', 6, 'square');
drawLegendKey(465, '#ff3f3f', 7, 'circle');
drawLegendKey(533, '#0068df', 7, 'triangle');
</script>
</body>
</html>
